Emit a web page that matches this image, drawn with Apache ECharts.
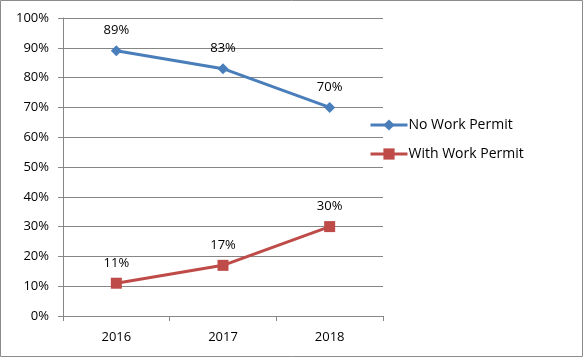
<!DOCTYPE html>
<html><head><meta charset="utf-8">
<script src="https://cdn.jsdelivr.net/npm/echarts@6/dist/echarts.min.js"></script>
<style>html,body{margin:0;padding:0;background:#fff}#c{width:585px;height:359px}</style>
</head><body><div id="c"></div>
<script>
var categories = ['2016', '2017', '2018'];
var noPermit = [89, 83, 70];
var withPermit = [11, 17, 30];
var yTicks = [0, 10, 20, 30, 40, 50, 60, 70, 80, 90, 100];

var chart = echarts.init(document.getElementById('c'));
var font = 'Open Sans';
chart.setOption({
  animation: false,
  backgroundColor: '#fff',
  graphic: [{type: 'rect', shape: {x: 0.5, y: 0.5, width: 582, height: 356}, style: {fill: 'none', stroke: '#8c8c8c', lineWidth: 1}, silent: true}],
  grid: {left: 63, right: 202, top: 18, bottom: 43},
  legend: {
    orient: 'vertical', left: 364, top: 113, itemGap: 15, itemWidth: 37, itemHeight: 14,
    lineStyle: {width: 3},
    textStyle: {fontFamily: font, fontSize: 14, color: '#000', padding: [0,0,0,-4]},
    data: ['No Work Permit', 'With Work Permit']
  },
  xAxis: {
    type: 'category', data: categories, boundaryGap: true,
    axisLine: {lineStyle: {color: '#868686', width: 1}},
    axisTick: {show: true, length: 5, lineStyle: {color: '#868686'}},
    axisLabel: {fontFamily: font, fontSize: 13, color: '#000', margin: 15}
  },
  yAxis: {
    type: 'value', min: yTicks[0], max: yTicks[yTicks.length - 1], interval: 10,
    axisLine: {show: true, lineStyle: {color: '#868686', width: 1}},
    axisTick: {show: true, length: 5, lineStyle: {color: '#868686'}},
    splitLine: {show: true, lineStyle: {color: '#868686', width: 1}},
    axisLabel: {fontFamily: font, fontSize: 13, color: '#000', margin: 14, formatter: '{value}%'}
  },
  series: [
    {
      name: 'No Work Permit', type: 'line', data: noPermit,
      symbol: 'diamond', symbolSize: 11,
      lineStyle: {color: '#4A7EBB', width: 3},
      itemStyle: {color: '#4A7EBB'},
      label: {show: true, position: 'top', distance: 8, formatter: '{c}%', fontFamily: font, fontSize: 13, color: '#000'}
    },
    {
      name: 'With Work Permit', type: 'line', data: withPermit,
      symbol: 'rect', symbolSize: 11,
      lineStyle: {color: '#BE4B48', width: 3},
      itemStyle: {color: '#BE4B48'},
      label: {show: true, position: 'top', distance: 8, formatter: '{c}%', fontFamily: font, fontSize: 13, color: '#000'}
    }
  ]
});
</script></body></html>
